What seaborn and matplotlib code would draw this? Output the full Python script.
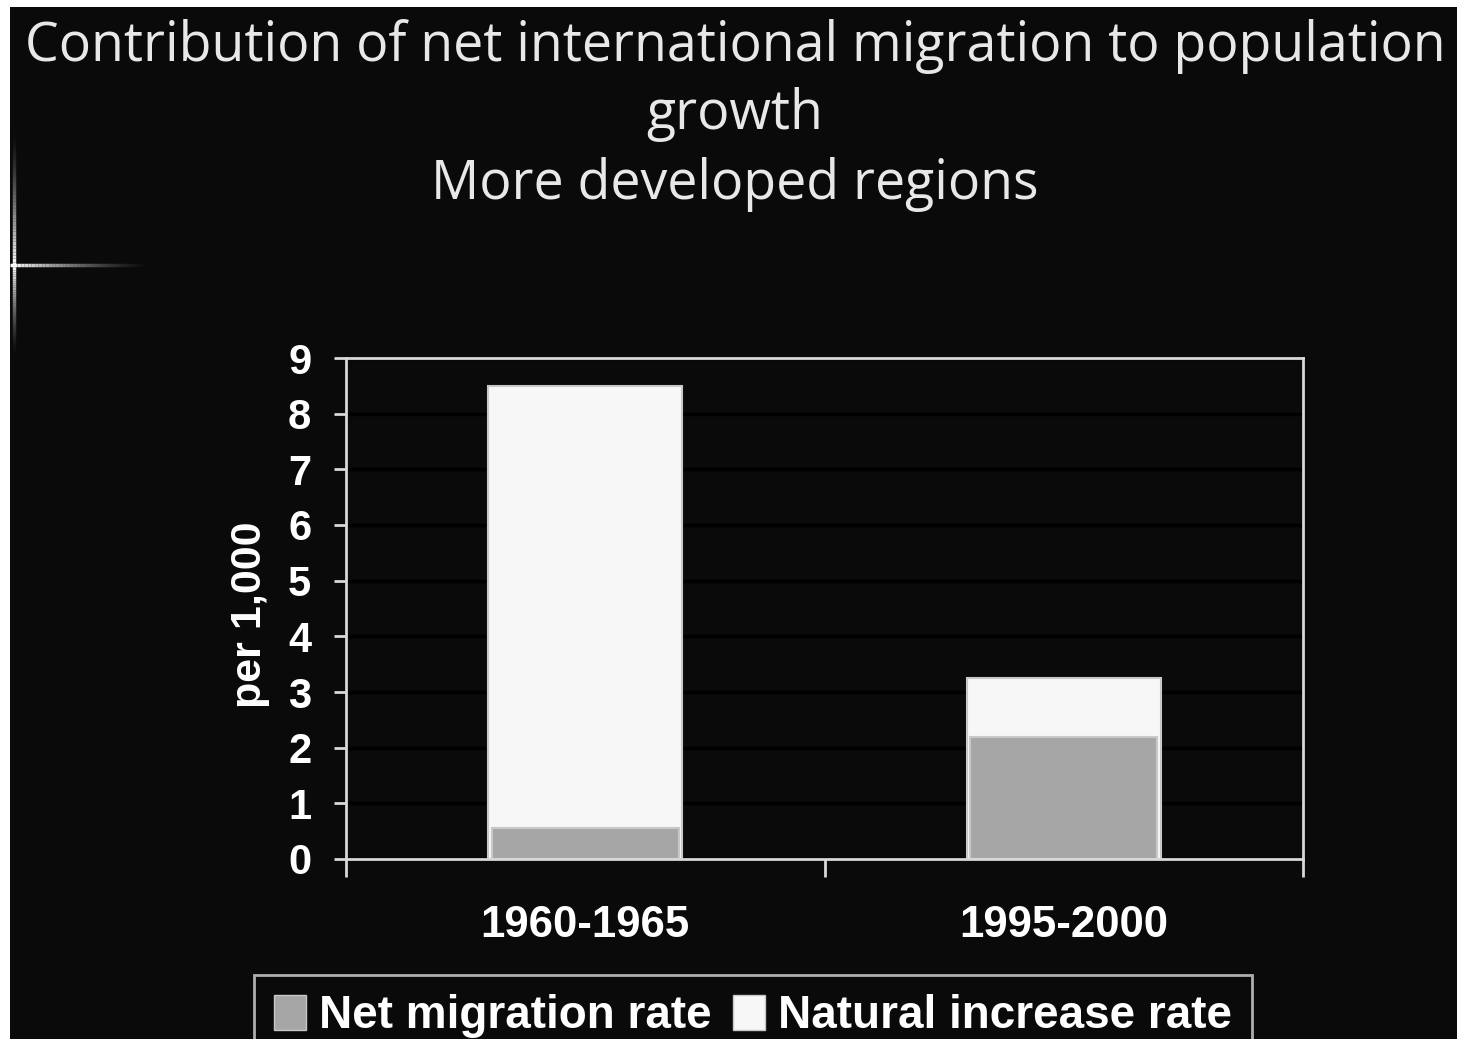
import numpy as np
import pandas as pd
import matplotlib
matplotlib.use('Agg')
import matplotlib.pyplot as plt
from matplotlib.patches import Patch, Rectangle
import seaborn as sns

periods = ['1960-1965', '1995-2000']
net_migration = [0.55, 2.2]
natural_increase = [7.95, 1.05]
series_names = ['Net migration rate', 'Natural increase rate']
yticks = list(range(0, 10))

bg = '#0a0a0a'
net_col = '#a6a6a6'
nat_col = '#f7f7f7'
edge_col = '#c8c8c8'

sns.set_theme(style='dark')
plt.rcParams['font.family'] = ['Liberation Sans', 'DejaVu Sans']

df = pd.DataFrame({'period': periods,
                   'net': net_migration,
                   'natural': natural_increase})
df['total'] = df['net'] + df['natural']

W, H = 1466, 1039
fig = plt.figure(figsize=(W / 100, H / 100), dpi=100)
fig.patch.set_facecolor('white')
fig.add_artist(Rectangle((10 / W, 0), 1447 / W, 1 - 7 / H,
                         transform=fig.transFigure, facecolor=bg,
                         edgecolor='none', zorder=-10))

# glow cross on the slide, fading away from (14, 265)
n = 40
for i in range(n):
    a = (1 - i / n) ** 1.5
    up0, up1 = 265 - i * 135 / n, 265 - (i + 1) * 135 / n
    dn0, dn1 = 265 + i * 90 / n, 265 + (i + 1) * 90 / n
    for y0, y1 in [(up0, up1), (dn0, dn1)]:
        fig.add_artist(plt.Line2D([14 / W, 14 / W], [1 - y0 / H, 1 - y1 / H],
                                  transform=fig.transFigure, color='white',
                                  alpha=a, lw=2.5, solid_capstyle='butt',
                                  zorder=-5))
    x0, x1 = 10 + i * 140 / n, 10 + (i + 1) * 140 / n
    fig.add_artist(plt.Line2D([x0 / W, x1 / W], [1 - 265 / H, 1 - 265 / H],
                              transform=fig.transFigure, color='white',
                              alpha=a, lw=2.5, solid_capstyle='butt',
                              zorder=-5))

ax = fig.add_axes([346 / W, 1 - 859 / H, 957 / W, 501 / H])
ax.set_facecolor(bg)

sns.barplot(data=df, x='period', y='total', color=nat_col, width=0.405,
            edgecolor=edge_col, linewidth=1.5, saturation=1, ax=ax, zorder=3)
sns.barplot(data=df, x='period', y='net', color=net_col, width=0.39,
            edgecolor=edge_col, linewidth=1.5, saturation=1, ax=ax, zorder=4)

ax.set_ylim(0, 9)
ax.set_xlim(-0.5, 1.5)
ax.set_yticks(yticks)
ax.set_yticklabels([str(t) for t in yticks])
ax.grid(axis='y', color='black', lw=2.5, zorder=1)
ax.grid(axis='x', visible=False)
ax.set_axisbelow(True)

for s in ax.spines.values():
    s.set_visible(True)
    s.set_color('#d8d8d8')
    s.set_linewidth(2)
    s.set_zorder(5)

ax.tick_params(axis='y', colors='#d8d8d8', length=9, width=2, pad=16,
               labelsize=30, labelcolor='white', left=True)
ax.tick_params(axis='x', length=0, pad=33, labelsize=31.5, labelcolor='white')
for lab in ax.get_yticklabels() + ax.get_xticklabels():
    lab.set_fontweight('bold')
# category separator ticks below axis
ax.set_xticks([-0.5, 0.5, 1.5], minor=True)
ax.tick_params(axis='x', which='minor', bottom=True, length=13, width=2,
               colors='#d8d8d8')

ax.set_xlabel('')
ax.set_ylabel('per 1,000', fontsize=31, fontweight='bold', color='white')
ax.yaxis.set_label_coords((270 - 346) / 957, (859 - 615) / 501)

title_lines = ['Contribution of net international migration to population',
               'growth', 'More developed regions']
for txt, yc in zip(title_lines, [47, 115, 185]):
    fig.text(735 / W, 1 - yc / H, txt, ha='center', va='center',
             fontsize=38.6, color='#e8e8e8', family=['Open Sans', 'DejaVu Sans'])

handles = [Patch(facecolor=net_col, edgecolor=edge_col, label=series_names[0]),
           Patch(facecolor=nat_col, edgecolor=edge_col, label=series_names[1])]
leg = fig.legend(handles=handles, loc='upper center', ncol=2,
                 bbox_to_anchor=(753 / W, 1 - 975 / H), borderaxespad=0,
                 frameon=True, fancybox=False, facecolor=bg, edgecolor='#d8d8d8',
                 prop={'size': 33, 'weight': 'bold'},
                 handlelength=0.7, handleheight=0.8, handletextpad=0.3,
                 columnspacing=0.45, borderpad=0.42)
leg.get_frame().set_linewidth(2)
for t in leg.get_texts():
    t.set_color('white')

fig.savefig('out.png', dpi=100, facecolor=fig.get_facecolor())
